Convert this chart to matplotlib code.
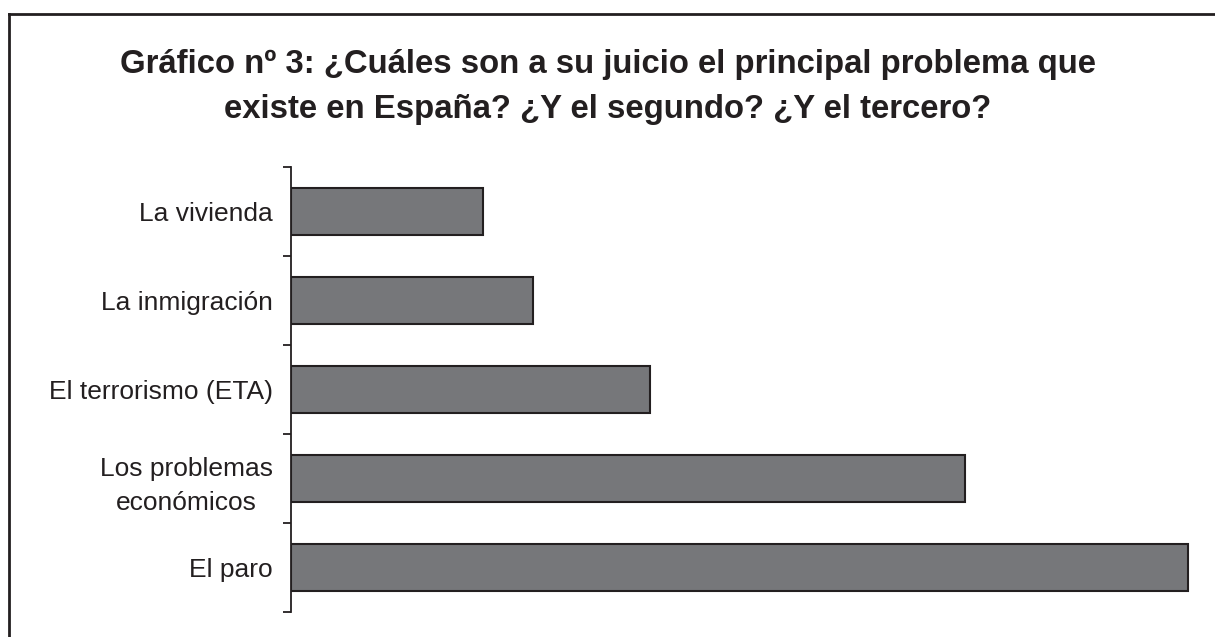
import matplotlib.pyplot as plt
from matplotlib.lines import Line2D

plt.rcParams['font.family'] = ['Liberation Sans', 'DejaVu Sans']

# bottom to top
categories = ['El paro', 'Los problemas\neconómicos', 'El terrorismo (ETA)',
              'La inmigración', 'La vivienda']
values = [100.0, 75.1, 40.0, 27.0, 21.4]  # relative, no scale shown

title = ('Gráfico nº 3: ¿Cuáles son a su juicio el principal problema que\n'
         'existe en España? ¿Y el segundo? ¿Y el tercero?')

ink = '#231f20'
bar_color = '#76777a'

W, H = 1215, 637
fig = plt.figure(figsize=(W / 100, H / 100), dpi=100)
ax = fig.add_axes([291 / W, (H - 612) / H, (1196 - 291) / W, (612 - 167) / H])

pos = list(range(len(categories)))
ax.barh(pos, values, height=0.53, color=bar_color, edgecolor=ink, linewidth=1.5)
ax.set_xlim(0, 100 * (1196 - 291) / (1188 - 291))
ax.set_ylim(-0.5, len(categories) - 0.5)

for s in ['top', 'right', 'bottom']:
    ax.spines[s].set_visible(False)
ax.spines['left'].set_color(ink)
ax.spines['left'].set_linewidth(1.3)
ax.set_xticks([])

ax.set_yticks([p - 0.5 for p in range(len(categories) + 1)])
ax.set_yticklabels([])
ax.tick_params(axis='y', which='major', length=6, width=1.3, color=ink, direction='out')
ax.set_yticks(pos, minor=True)
ax.set_yticklabels(categories, minor=True, fontsize=19, color=ink,
                   linespacing=1.55, multialignment='center')
ax.tick_params(axis='y', which='minor', length=0, pad=13)

fig.text(0.5, (H - 87) / H, title, ha='center', va='center', fontsize=23.7,
         fontweight='bold', color=ink, linespacing=1.6)

# frame (only left and top edges visible)
fig.add_artist(Line2D([9 / W, 9 / W], [0, (H - 14) / H], color=ink, lw=2))
fig.add_artist(Line2D([9 / W, 1], [(H - 14) / H, (H - 14) / H], color=ink, lw=2))

fig.savefig('out.png', dpi=100)
